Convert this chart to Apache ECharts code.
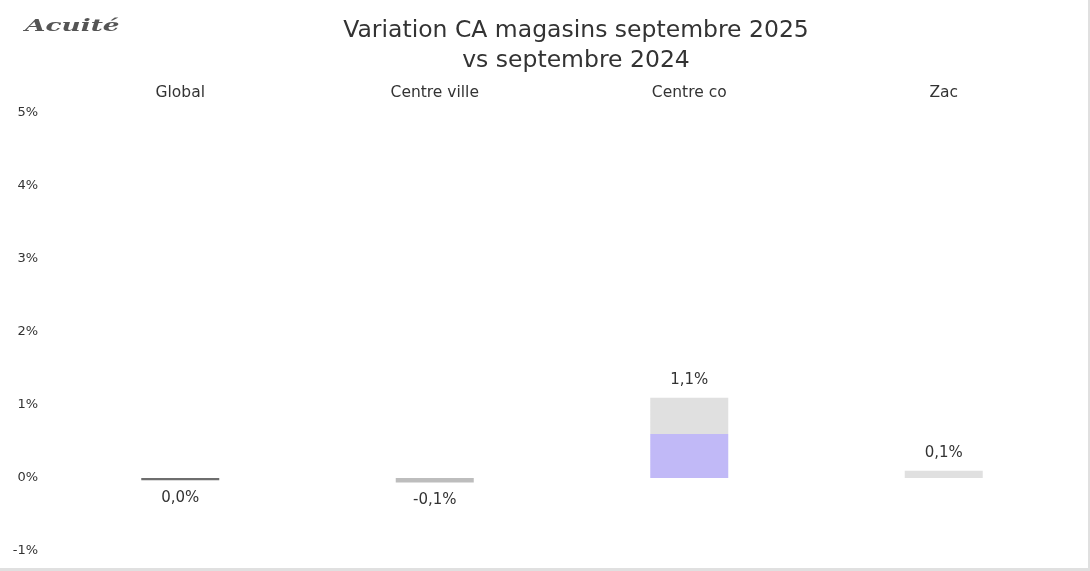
<!DOCTYPE html>
<html>
<head>
<meta charset="utf-8">
<script src="https://cdn.jsdelivr.net/npm/echarts@6/dist/echarts.min.js"></script>
<style>
  html, body { margin: 0; padding: 0; background: #fff; }
  #chart { width: 1088px; height: 568px; border-right: 2px solid #e0e0e0; border-bottom: 3px solid #e0e0e0; }
</style>
</head>
<body>
<div id="chart"></div>
<script>
  // categories and values (% change)
  var categories = ['Global', 'Centre ville', 'Centre co', 'Zac'];
  var variations = [-0.03, -0.06, 1.1, 0.1];
  var yTicks = { min: -1, max: 5, step: 1 };

  var barColors = [
    '#6e6e6e',
    '#bdbdbd',
    { type: 'linear', x: 0, y: 0, x2: 0, y2: 1,
      colorStops: [{ offset: 0, color: '#e0e0e0' }, { offset: 0.45, color: '#e0e0e0' },
                   { offset: 0.45, color: '#c1b9f7' }, { offset: 1, color: '#c1b9f7' }] },
    '#e0e0e0'
  ];

  function fmt(v) {
    return (Math.round(v * 10) / 10).toFixed(1).replace('.', ',') + '%';
  }

  var chart = echarts.init(document.getElementById('chart'));

  var barData = variations.map(function (v, i) {
    return {
      value: v,
      itemStyle: { color: barColors[i] },
      label: { position: v < 0 ? 'bottom' : 'top' }
    };
  });

  var option = {
    animation: false,
    backgroundColor: '#fff',
    title: {
      text: 'Variation CA magasins septembre 2025\nvs septembre 2024',
      left: 571,
      top: 11,
      textAlign: 'center',
      textStyle: { fontFamily: 'DejaVu Sans', fontSize: 23.5, fontWeight: 'normal', color: '#333', lineHeight: 30 }
    },
    graphic: [{
      type: 'text',
      left: 25,
      top: 18,
      scaleX: 1.55,
      style: { text: 'Acuité', font: 'italic bold 17px "DejaVu Serif"', fill: '#555' }
    }],
    grid: { left: 53, right: 17, top: 113, bottom: 17 },
    xAxis: {
      type: 'category',
      position: 'top',
      data: categories,
      axisLine: { show: false },
      axisTick: { show: false },
      axisLabel: { fontFamily: 'DejaVu Sans', fontSize: 15.5, color: '#333', margin: 12 }
    },
    yAxis: {
      type: 'value',
      min: yTicks.min,
      max: yTicks.max,
      interval: yTicks.step,
      splitLine: { show: false },
      axisLine: { show: false },
      axisTick: { show: false },
      axisLabel: {
        fontFamily: 'DejaVu Sans', fontSize: 13, color: '#333', margin: 15,
        formatter: function (v) { return v + '%'; }
      }
    },
    series: [{
      type: 'bar',
      data: barData,
      barWidth: 78,
      label: {
        show: true,
        distance: 10,
        fontFamily: 'DejaVu Sans',
        fontSize: 15,
        color: '#333',
        formatter: function (p) { return fmt(p.value); }
      }
    }]
  };

  chart.setOption(option);
</script>
</body>
</html>
